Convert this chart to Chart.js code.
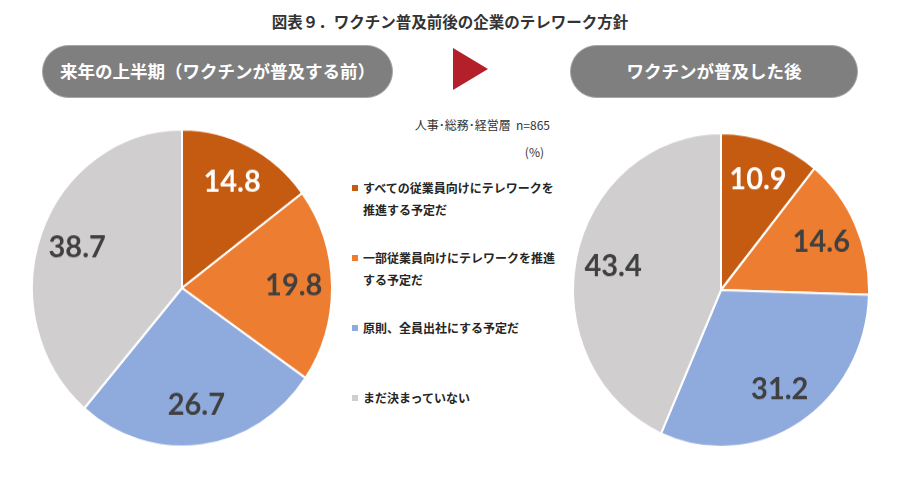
<!DOCTYPE html>
<html lang="ja">
<head>
<meta charset="utf-8">
<script src="https://cdn.jsdelivr.net/npm/chart.js@4"></script>
<style>
  html, body { margin: 0; padding: 0; background: #fff; }
  body { width: 900px; height: 486px; position: relative; overflow: hidden;
         font-family: "Noto Sans CJK JP", "Noto Sans", sans-serif; color: #262626; }
  .title { position: absolute; left: 0; width: 900px; top: 10px; text-align: center;
           font-size: 15.5px; font-weight: 700; color: #333; }
  .pill { position: absolute; top: 45px; height: 53px; border-radius: 27px;
          background: #7f7f7f; border: 1px solid #a6a6a6; box-sizing: border-box;
          color: #fff; font-size: 17.5px; font-weight: 700; text-align: center; line-height: 50px; }
  .arrow { position: absolute; left: 453px; top: 48px; width: 0; height: 0;
           border-top: 21px solid transparent; border-bottom: 21px solid transparent;
           border-left: 35px solid #b3202a; }
  .pie { position: absolute; }
  .note { position: absolute; font-size: 12px; color: #333; text-align: right; }
  #legend { position: absolute; left: 352px; top: 177px; width: 206px; }
  .item { height: 70px; position: relative; padding-left: 11px; font-size: 12px;
          font-weight: 700; line-height: 22px; color: #262626; }
  .item span.box { position: absolute; left: 0; top: 8px; width: 6px; height: 6px; }
</style>
</head>
<body>
<div class="title">図表９．ワクチン普及前後の企業のテレワーク方針</div>
<div class="pill" style="left:42px;width:351px;">来年の上半期（ワクチンが普及する前）</div>
<div class="arrow"></div>
<div class="pill" style="left:570px;width:288px;">ワクチンが普及した後</div>

<div class="pie" style="left:31px;top:137px;width:302px;height:302px;transform:scaleY(1.057);">
  <canvas id="pieBefore"></canvas>
</div>
<div class="pie" style="left:572px;top:141px;width:298px;height:298px;transform:scaleY(1.06);">
  <canvas id="pieAfter"></canvas>
</div>

<div class="note" style="left:380px;width:170px;top:116px;">人事･総務･経営層&nbsp;&nbsp;n=865</div>
<div class="note" style="left:480px;width:64px;top:143px;">(%)</div>
<div id="legend"></div>

<script>
// Categories and values
const categories = [
    'すべての従業員向けにテレワークを推進する予定だ',
    '一部従業員向けにテレワークを推進する予定だ',
    '原則、全員出社にする予定だ',
    'まだ決まっていない'
];
const beforeValues = [14.8, 19.8, 26.7, 38.7];
const afterValues = [10.9, 14.6, 31.2, 43.4];

const sliceColors = ['#c55a11', '#ed7d31', '#8faadc', '#d0cece'];
const labelColors = ['#ffffff', '#404040', '#404040', '#404040'];

// Draw the value inside each slice
const sliceLabels = {
    id: 'sliceLabels',
    afterDatasetsDraw(chart) {
        const ctx = chart.ctx;
        const meta = chart.getDatasetMeta(0);
        const values = chart.data.datasets[0].data;
        ctx.save();
        ctx.font = '700 29px Lato, "Noto Sans", sans-serif';
        ctx.textAlign = 'center';
        ctx.textBaseline = 'middle';
        meta.data.forEach((arc, i) => {
            const p = arc.getProps(['x', 'y', 'startAngle', 'endAngle', 'outerRadius'], true);
            const mid = (p.startAngle + p.endAngle) / 2;
            const r = p.outerRadius * 0.745;
            ctx.fillStyle = labelColors[i];
            ctx.fillText(values[i].toFixed(1), p.x + Math.cos(mid) * r, p.y + Math.sin(mid) * r);
        });
        ctx.restore();
    }
};

function makePie(id, values) {
    const ctx = document.getElementById(id).getContext('2d');
    return new Chart(ctx, {
        type: 'pie',
        data: {
            labels: categories,
            datasets: [{
                data: values,
                backgroundColor: sliceColors,
                borderColor: '#ffffff',
                borderWidth: 2
            }]
        },
        options: {
            responsive: true,
            maintainAspectRatio: false,
            animation: false,
            layout: { padding: 0 },
            plugins: {
                legend: { display: false },
                tooltip: { enabled: false }
            }
        },
        plugins: [sliceLabels]
    });
}

makePie('pieBefore', beforeValues);
makePie('pieAfter', afterValues);

// Legend shared by both pies
const legend = document.getElementById('legend');
categories.forEach((name, i) => {
    const item = document.createElement('div');
    item.className = 'item';
    item.innerHTML = '<span class="box" style="background:' + sliceColors[i] + '"></span>' + name;
    legend.appendChild(item);
});
</script>
</body>
</html>
